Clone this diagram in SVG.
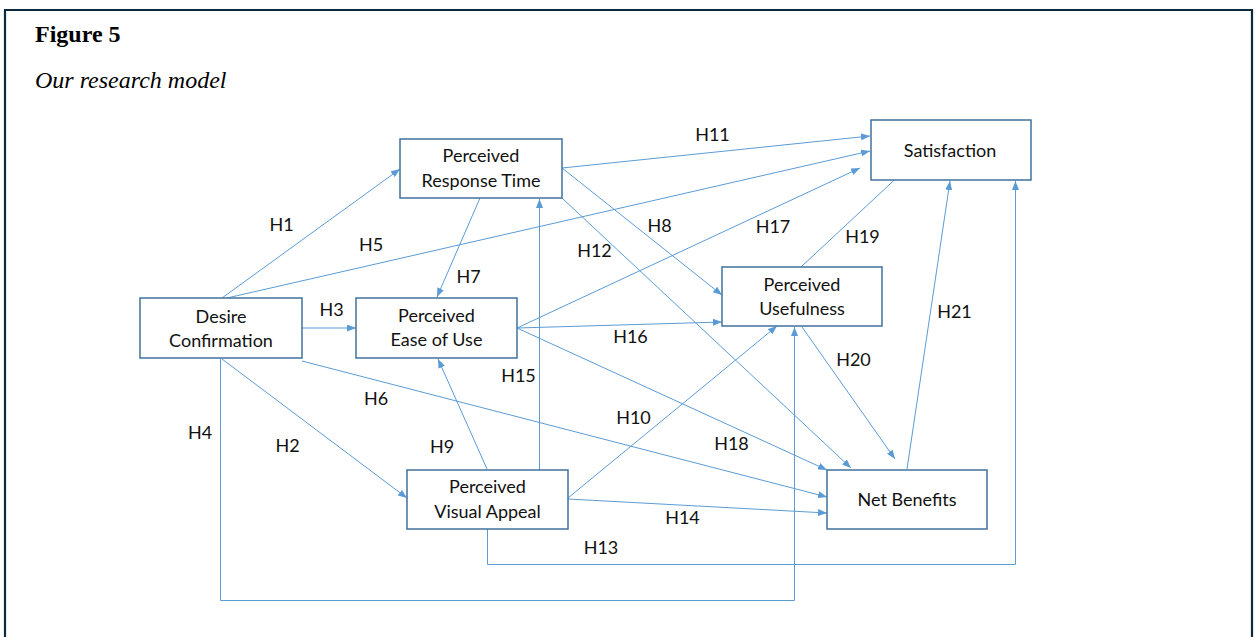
<svg xmlns="http://www.w3.org/2000/svg" width="1258" height="637" viewBox="0 0 1258 637">
<style>
.frame{fill:none;stroke:#0c2a3b;stroke-width:2.2}
.title{font-family:"Liberation Serif",serif;font-size:24px;fill:#000}
.node rect{fill:#fff;stroke:#41719c;stroke-width:1.5}
.node text,.lbl{font-family:Lato,"Liberation Sans",sans-serif;font-size:18px;fill:#111;text-anchor:middle}
.conn path{fill:none;stroke:#5b9bd5;stroke-width:1}
</style>
<defs>
<marker id="ah" markerUnits="userSpaceOnUse" markerWidth="9" markerHeight="7" refX="9" refY="3.5" orient="auto">
<path d="M0,0 L9,3.5 L0,7 z" fill="#5b9bd5"/>
</marker>
</defs>
<rect width="1258" height="637" fill="#fff"/>
<path class="frame" d="M5,637 V10 H1252 V637"/>
<text class="title" x="35" y="42" font-weight="bold">Figure 5</text>
<text class="title" x="35" y="88" font-style="italic">Our research model</text>

<g id="connectors" class="conn">
<path d="M222,298 L400,169" marker-end="url(#ah)"/>
<path d="M227,298 L870,151" marker-end="url(#ah)"/>
<path d="M302,328 L356,328" marker-end="url(#ah)"/>
<path d="M302,361 L827,497" marker-end="url(#ah)"/>
<path d="M222,359 L407,498" marker-end="url(#ah)"/>
<path d="M220.5,359 V600.5 H794.5 V327" marker-end="url(#ah)"/>
<path d="M562,168 L870,136" marker-end="url(#ah)"/>
<path d="M562,168 L722,295" marker-end="url(#ah)"/>
<path d="M562,198 L851,468" marker-end="url(#ah)"/>
<path d="M480,198 L437,297" marker-end="url(#ah)"/>
<path d="M517,328 L860,168" marker-end="url(#ah)"/>
<path d="M517,328 L722,322" marker-end="url(#ah)"/>
<path d="M517,328 L827,470" marker-end="url(#ah)"/>
<path d="M487,469 L438,359" marker-end="url(#ah)"/>
<path d="M539.5,470 V199" marker-end="url(#ah)"/>
<path d="M568,498 L777,326" marker-end="url(#ah)"/>
<path d="M568,499 L827,513" marker-end="url(#ah)"/>
<path d="M487.5,529 V564.5 H1015.5 V181" marker-end="url(#ah)"/>
<path d="M801,267 L904,171" marker-end="url(#ah)"/>
<path d="M802,327 L895,459" marker-end="url(#ah)"/>
<path d="M907,469 L950,181" marker-end="url(#ah)"/>
</g>

<g id="labels">
<text class="lbl" x="281.5" y="230.5">H1</text>
<text class="lbl" x="371" y="251">H5</text>
<text class="lbl" x="468.5" y="283">H7</text>
<text class="lbl" x="331.5" y="316">H3</text>
<text class="lbl" x="712.5" y="141">H11</text>
<text class="lbl" x="659.5" y="232">H8</text>
<text class="lbl" x="594.5" y="257">H12</text>
<text class="lbl" x="773" y="233">H17</text>
<text class="lbl" x="862.5" y="243">H19</text>
<text class="lbl" x="954.5" y="318">H21</text>
<text class="lbl" x="630.5" y="343">H16</text>
<text class="lbl" x="518.5" y="382">H15</text>
<text class="lbl" x="376" y="405">H6</text>
<text class="lbl" x="200" y="439">H4</text>
<text class="lbl" x="287.5" y="452">H2</text>
<text class="lbl" x="442" y="453">H9</text>
<text class="lbl" x="853.5" y="366">H20</text>
<text class="lbl" x="633.5" y="424">H10</text>
<text class="lbl" x="731.5" y="450">H18</text>
<text class="lbl" x="682.5" y="524">H14</text>
<text class="lbl" x="601" y="554">H13</text>
</g>

<g id="prt" class="node"><rect x="400" y="139" width="162" height="59"/><text x="481" y="162">Perceived</text><text x="481" y="187">Response Time</text></g>
<g id="dc" class="node"><rect x="140" y="298" width="162" height="60"/><text x="221" y="323">Desire</text><text x="221" y="347">Confirmation</text></g>
<g id="peu" class="node"><rect x="356" y="298" width="161" height="60"/><text x="436.5" y="322">Perceived</text><text x="436.5" y="346">Ease of Use</text></g>
<g id="sat" class="node"><rect x="871" y="120" width="160" height="60"/><text x="950" y="157">Satisfaction</text></g>
<g id="pu" class="node"><rect x="722" y="267" width="160" height="59"/><text x="802" y="291">Perceived</text><text x="802" y="315">Usefulness</text></g>
<g id="pva" class="node"><rect x="407" y="470" width="161" height="59"/><text x="487.5" y="493">Perceived</text><text x="487.5" y="518">Visual Appeal</text></g>
<g id="nb" class="node"><rect x="827" y="470" width="160" height="59"/><text x="907" y="506">Net Benefits</text></g>
</svg>
